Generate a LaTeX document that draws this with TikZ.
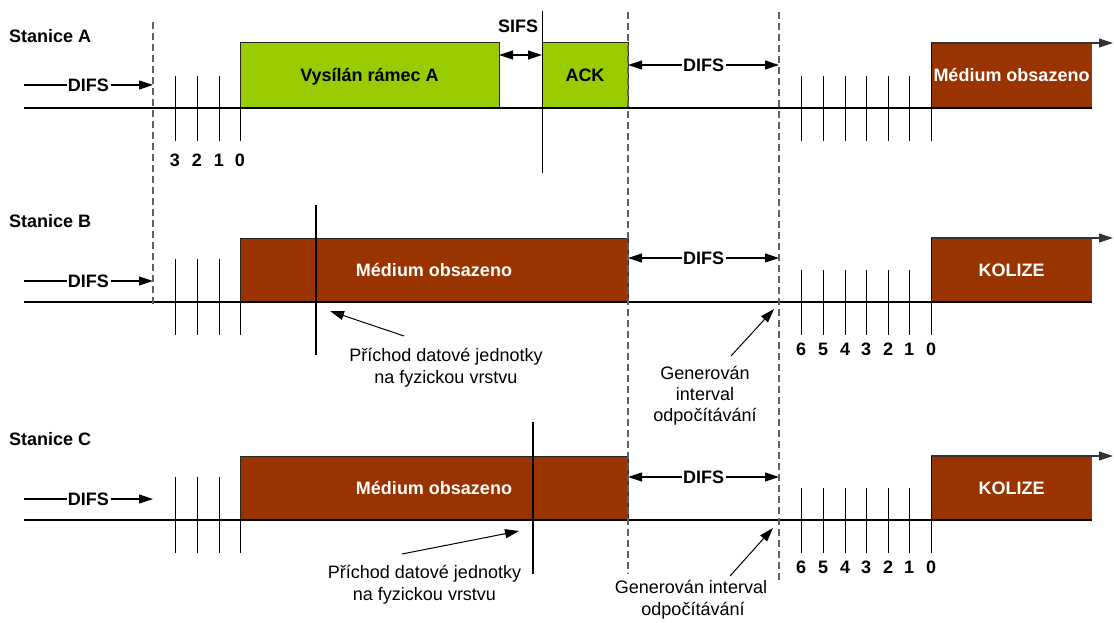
\documentclass[tikz,border=0pt]{standalone}
\usepackage{fontspec}
\setmainfont{Liberation Sans}
\usetikzlibrary{arrows.meta}

\definecolor{busygreen}{HTML}{99CC00}
\definecolor{busybrown}{HTML}{993300}
\definecolor{guidegray}{HTML}{606060}

\tikzset{
  txt/.style={font=\fontsize{18}{22}\selectfont, inner sep=0pt},
  btxt/.style={font=\fontsize{18}{22}\selectfont\bfseries, inner sep=0pt},
  tip/.style={-{Triangle[length=14pt,width=9pt]}},
  tips/.style={{Triangle[length=14pt,width=9pt]}-{Triangle[length=14pt,width=9pt]}},
  gap/.style={btxt, fill=white, inner xsep=1.5pt, inner ysep=0pt, text height=13pt, text depth=0pt},
  slot/.style={rectangle, btxt, inner sep=0pt, outer sep=0pt, line width=1pt,
               text height=13pt, text depth=0pt},
  sendbox/.style={slot, fill=busygreen, draw=black!85, text=black},
  busybox/.style={slot, fill=busybrown, draw=black!85, text=white},
  endbox/.style={slot, fill=busybrown, text=white},
  guide/.style={draw=guidegray, line width=1.2pt, dash pattern=on 7pt off 4pt},
  axis/.style={line width=1.1pt},
  tick/.style={line width=1pt},
  marker/.style={line width=1.3pt},
  pointer/.style={line width=1pt, -{Triangle[length=14pt,width=9pt]}},
}

\begin{document}
\begin{tikzpicture}[x=1pt,y=-1pt]
\useasboundingbox (0,0) rectangle (1114,623);

% ---------- busy periods ----------
\node[sendbox, minimum width=259pt, minimum height=65pt] (frameA) at (369.5,75.5) {Vysílán rámec A};
\node[sendbox, minimum width=86pt,  minimum height=65pt] (ackA)   at (585,75.5)   {ACK};
\node[endbox,  minimum width=161pt, minimum height=65pt] (busyA)  at (1011.5,75.5) {Médium obsazeno};

\node[busybox, minimum width=388pt, minimum height=64pt] (busyB)  at (434,270)    {Médium obsazeno};
\node[endbox,  minimum width=161pt, minimum height=64pt] (collB)  at (1011.5,270) {KOLIZE};

\node[busybox, minimum width=388pt, minimum height=64pt] (busyC)  at (434,488)    {Médium obsazeno};
\node[endbox,  minimum width=161pt, minimum height=64pt] (collC)  at (1011.5,488) {KOLIZE};

% ---------- time axes ----------
\coordinate (axA0) at (24,108);  \coordinate (axA1) at (1092,108);
\coordinate (axB0) at (24,302);  \coordinate (axB1) at (1092,302);
\coordinate (axC0) at (24,520);  \coordinate (axC1) at (1092,520);
\draw[axis] (axA0) -- (axA1);
\draw[axis] (axB0) -- (axB1);
\draw[axis] (axC0) -- (axC1);

% arrows along the top of the last busy periods
\coordinate (topA) at (1113,43);
\coordinate (topB) at (1113,238);
\coordinate (topC) at (1113,456);
\draw[axis, draw=black!80, tip] (busyA.north west) -- (topA);
\draw[axis, draw=black!80, tip] (collB.north west) -- (topB);
\draw[axis, draw=black!80, tip] (collC.north west) -- (topC);

% ---------- backoff slots ----------
\foreach \x in {175,197,219} {
  \draw[tick] (\x,76)  -- (\x,141);
  \draw[tick] (\x,259) -- (\x,335);
  \draw[tick] (\x,477) -- (\x,553);
}
\draw[tick] (frameA.south west) -- ++(0,33);
\draw[tick] (busyB.south west)  -- ++(0,33);
\draw[tick] (busyC.south west)  -- ++(0,33);

\foreach \x in {801,823,845,866,888,909} {
  \draw[tick] (\x,76)  -- (\x,141);
  \draw[tick] (\x,270) -- (\x,335);
  \draw[tick] (\x,488) -- (\x,553);
}
\draw[tick] (busyA.north west) -- ++(0,98);
\draw[tick] (collB.north west) -- ++(0,97);
\draw[tick] (collC.north west) -- ++(0,97);

% slot numbers
\foreach \x/\n in {175/3,197/2,219/1,240/0}
  \node[btxt, anchor=base] (cntA\n) at (\x,167) {\n};
\foreach \x/\n in {801/6,823/5,845/4,866/3,888/2,909/1,931/0} {
  \node[btxt, anchor=base] (cntB\n) at (\x,355) {\n};
  \node[btxt, anchor=base] (cntC\n) at (\x,573) {\n};
}

% ---------- station names ----------
\node[btxt, anchor=base west] (stA) at (9,43)  {Stanice A};
\node[btxt, anchor=base west] (stB) at (9,227) {Stanice B};
\node[btxt, anchor=base west] (stC) at (9,445) {Stanice C};

% ---------- initial DIFS ----------
\coordinate (dA0) at (24,85);  \coordinate (dA1) at (153,85);
\coordinate (dB0) at (24,281); \coordinate (dB1) at (153,281);
\coordinate (dC0) at (24,499); \coordinate (dC1) at (153,499);
\draw[axis, tip] (dA0) -- node[gap] (difsA0) {DIFS} (dA1);
\draw[axis, tip] (dB0) -- node[gap] (difsB0) {DIFS} (dB1);
\draw[axis, tip] (dC0) -- node[gap] (difsC0) {DIFS} (dC1);

% ---------- SIFS and DIFS after the frame ----------
\coordinate (ackTop) at (542,11);
\coordinate (ackBot) at (542,173);
\draw[tick] (ackTop) -- (ackBot);
\coordinate (sifs0) at (499,55); \coordinate (sifs1) at (542,55);
\draw[axis, tips] (sifs0) -- (sifs1);
\node[btxt, anchor=base] (sifsL) at (518,33) {SIFS};

\coordinate (eA0) at (628,65);  \coordinate (eA1) at (779,65);
\coordinate (eB0) at (628,258); \coordinate (eB1) at (779,258);
\coordinate (eC0) at (628,477); \coordinate (eC1) at (779,477);
\draw[axis, tips] (eA0) -- node[gap] (difsA1) {DIFS} (eA1);
\draw[axis, tips] (eB0) -- node[gap] (difsB1) {DIFS} (eB1);
\draw[axis, tips] (eC0) -- node[gap] (difsC1) {DIFS} (eC1);

% ---------- dashed time guides ----------
\coordinate (g1t) at (153,22);  \coordinate (g1b) at (153,305);
\coordinate (g2t) at (628,12);  \coordinate (g2b) at (628,574);
\coordinate (g3t) at (779,12);  \coordinate (g3b) at (779,580);
\draw[guide] (g1t) -- (g1b);
\draw[guide] (g2t) -- (g2b);
\draw[guide] (g3t) -- (g3b);

% ---------- arrival of the data unit ----------
\coordinate (arrBt) at (316,205); \coordinate (arrBb) at (316,355);
\coordinate (arrCt) at (533,422); \coordinate (arrCb) at (533,574);
\draw[marker] (arrBt) -- (arrBb);
\draw[marker] (arrCt) -- (arrCb);

\node[txt, anchor=base] (noteB1) at (446,361) {Příchod datové jednotky};
\node[txt, anchor=base] (noteB2) at (446,383) {na fyzickou vrstvu};
\node[txt, anchor=base] (noteC1) at (424.5,578) {Příchod datové jednotky};
\node[txt, anchor=base] (noteC2) at (424.5,600) {na fyzickou vrstvu};

\coordinate (pB0) at (404,336); \coordinate (pB1) at (330,311);
\coordinate (pC0) at (402,554); \coordinate (pC1) at (519,531);
\draw[pointer] (pB0) -- (pB1);
\draw[pointer] (pC0) -- (pC1);

% ---------- backoff interval generated ----------
\node[txt, anchor=base] (genB1) at (705,379) {Generován};
\node[txt, anchor=base] (genB2) at (705,400) {interval};
\node[txt, anchor=base] (genB3) at (705,421) {odpočítávání};
\node[txt, anchor=base] (genC1) at (691,593) {Generován interval};
\node[txt, anchor=base] (genC2) at (693,615) {odpočítávání};

\coordinate (qB0) at (731,356); \coordinate (qB1) at (774,309);
\coordinate (qC0) at (730,576); \coordinate (qC1) at (773,528);
\draw[pointer] (qB0) -- (qB1);
\draw[pointer] (qC0) -- (qC1);
\end{tikzpicture}
\end{document}
